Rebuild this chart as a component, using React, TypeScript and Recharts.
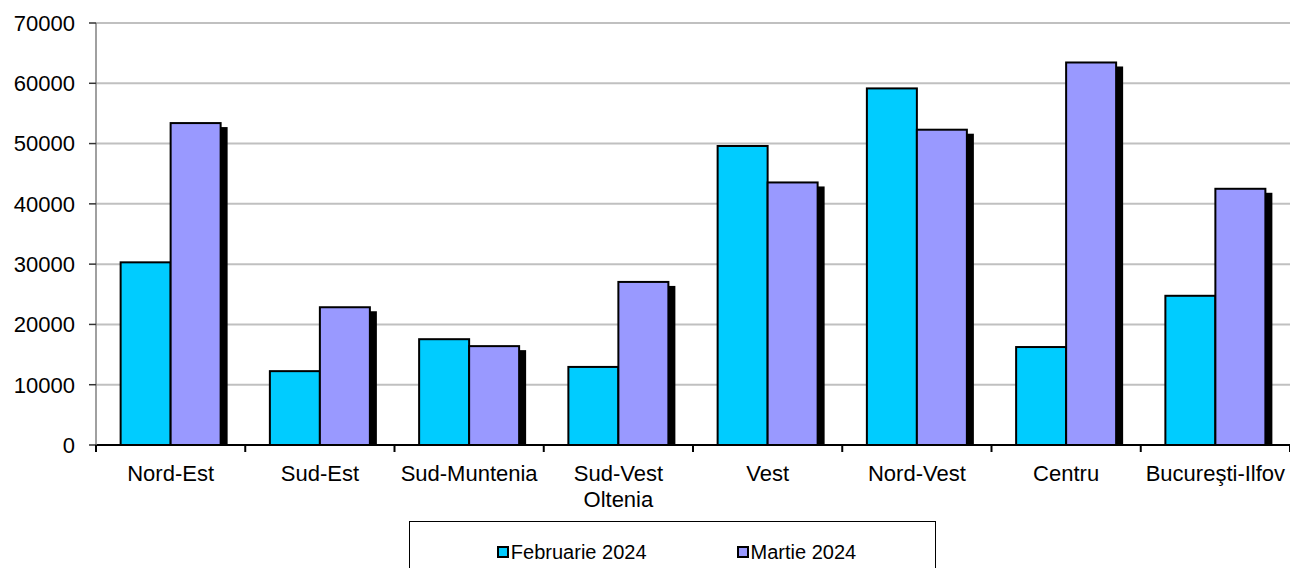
import React from 'react';
import { BarChart, Bar, XAxis, YAxis, CartesianGrid, Legend } from 'recharts';

const regions = ['Nord-Est', 'Sud-Est', 'Sud-Muntenia', 'Sud-Vest\nOltenia', 'Vest', 'Nord-Vest', 'Centru', 'Bucureşti-Ilfov'];
const februarie = [30300, 12250, 17550, 12950, 49600, 59150, 16250, 24750];
const martie = [53400, 22850, 16400, 27050, 43550, 52300, 63450, 42500];
const yTicks = [0, 10000, 20000, 30000, 40000, 50000, 60000, 70000];

const data = regions.map((name, i) => ({ name, feb: februarie[i], mar: martie[i] }));

const FONT = '"Liberation Sans", Arial, sans-serif';
const FEB_COLOR = '#00ccff';
const MAR_COLOR = '#9999ff';

const CategoryTick = (props: any) => {
  const { x, y, payload, index } = props;
  const half = payload && payload.offset ? payload.offset : 74.6;
  const lines = String(payload.value).split('\n');
  return (
    <g>
      <line x1={x - half} x2={x - half} y1={y} y2={y + 7} stroke="#000" strokeWidth={2} />
      {index === regions.length - 1 && (
        <line x1={x + half} x2={x + half} y1={y} y2={y + 7} stroke="#000" strokeWidth={2} />
      )}
      <text x={x} y={y + 36} textAnchor="middle" fill="#000" fontSize={22} fontFamily={FONT}>
        {lines.map((l, i) => (
          <tspan key={i} x={x} dy={i === 0 ? 0 : 26}>{l}</tspan>
        ))}
      </text>
    </g>
  );
};

const ShadowBar = (props: any) => {
  const { x, y, width, height, fill } = props;
  if (!height || height <= 0) return null;
  return (
    <g>
      <rect x={x + 7} y={y + 4} width={width} height={Math.max(0, height - 4)} fill="#000" />
      <rect x={x} y={y} width={width} height={height} fill={fill} stroke="#000" strokeWidth={2} />
    </g>
  );
};

const PlainBar = (props: any) => {
  const { x, y, width, height, fill } = props;
  if (!height || height <= 0) return null;
  return <rect x={x} y={y} width={width} height={height} fill={fill} stroke="#000" strokeWidth={2} />;
};

const LegendBox = () => {
  const item = (color: string, label: string) => (
    <div style={{ display: 'flex', alignItems: 'center' }}>
      <span
        style={{
          display: 'inline-block',
          width: 8,
          height: 8,
          background: color,
          border: '2px solid #000',
          marginRight: 2,
        }}
      />
      <span>{label}</span>
    </div>
  );
  return (
    <div
      style={{
        width: 527,
        height: 50,
        boxSizing: 'border-box',
        border: '1px solid #000',
        display: 'flex',
        justifyContent: 'center',
        gap: 90,
        paddingTop: 11,
        paddingLeft: 8,
        fontFamily: FONT,
        fontSize: 20,
        lineHeight: '24px',
        color: '#000',
        background: '#fff',
      }}
    >
      {item(FEB_COLOR, 'Februarie 2024')}
      {item(MAR_COLOR, 'Martie 2024')}
    </div>
  );
};

export default function App() {
  return (
    <div style={{ position: 'absolute', left: 0, top: 0, width: 1290, height: 568, background: '#fff' }}>
      <BarChart
        width={1290}
        height={568}
        data={data}
        margin={{ top: 23, right: 0, left: 0, bottom: 3 }}
        barCategoryGap="16.5%"
        barGap={0}
      >
        <CartesianGrid horizontal vertical={false} stroke="#c0c0c0" strokeWidth={2} />
        <XAxis
          dataKey="name"
          interval={0}
          height={70}
          tickLine={false}
          tickSize={0}
          tickMargin={0}
          axisLine={{ stroke: '#000', strokeWidth: 2 }}
          tick={<CategoryTick />}
        />
        <YAxis
          width={96}
          domain={[0, 70000]}
          ticks={yTicks}
          interval={0}
          tickSize={7}
          tickMargin={14}
          axisLine={{ stroke: '#808080', strokeWidth: 1.5 }}
          tickLine={{ stroke: '#333', strokeWidth: 1.5 }}
          tick={{ fill: '#000', fontSize: 22, fontFamily: FONT }}
        />
        <Legend
          verticalAlign="bottom"
          content={<LegendBox />}
          wrapperStyle={{ left: 409, top: 521, bottom: 'auto', width: 527 }}
        />
        <Bar dataKey="feb" name="Februarie 2024" fill={FEB_COLOR} shape={<PlainBar />} isAnimationActive={false} />
        <Bar dataKey="mar" name="Martie 2024" fill={MAR_COLOR} shape={<ShadowBar />} isAnimationActive={false} />
      </BarChart>
    </div>
  );
}
